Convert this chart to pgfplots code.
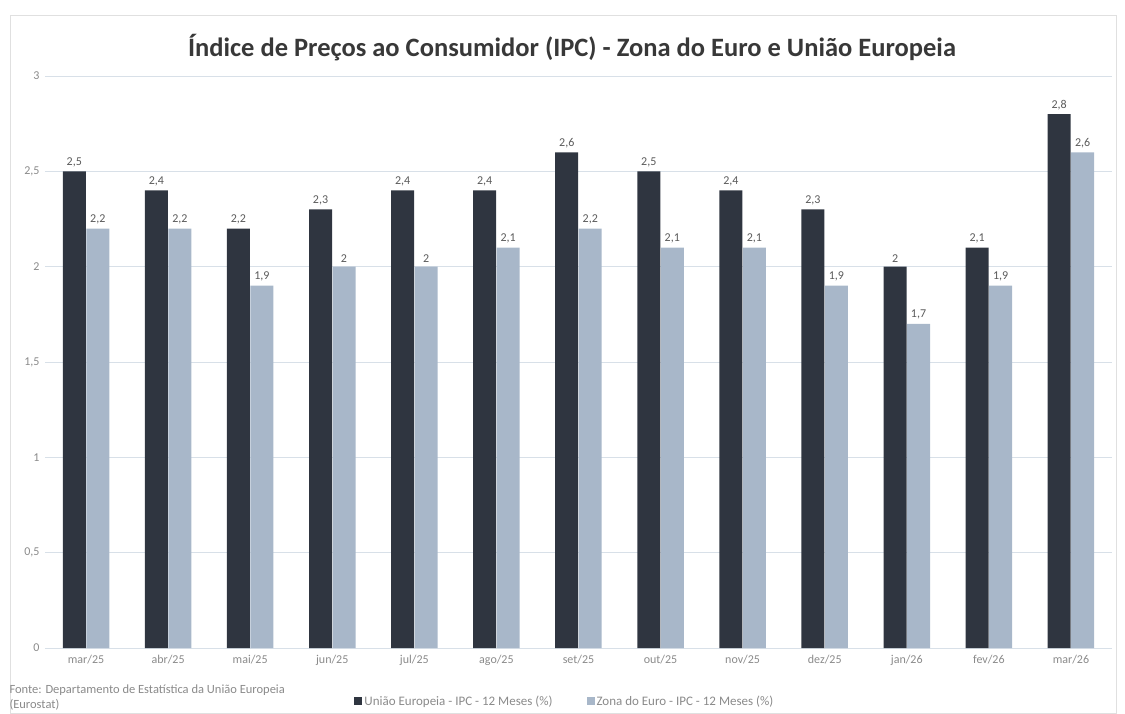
\documentclass[border=0pt]{standalone}
\usepackage{fontspec}
\setmainfont{Carlito}
\usepackage{pgfplots}
\pgfplotsset{compat=1.18}

\definecolor{ueColor}{HTML}{2F3540}
\definecolor{zeColor}{HTML}{A8B7C9}
\definecolor{gridColor}{HTML}{D8E0E8}
\definecolor{tickColor}{HTML}{8A8A8A}
\definecolor{labelColor}{HTML}{5A5A5A}
\definecolor{titleColor}{HTML}{383838}

\begin{document}
\begin{tikzpicture}
\useasboundingbox (0pt,0pt) rectangle (1125pt,-714pt);
\draw[black!12, line width=0.8pt] (10pt,-15pt) rectangle (1116pt,-713pt);

\node[font=\fontsize{26.5}{30}\selectfont\bfseries, text=titleColor] at (572pt,-48pt)
  {Índice de Preços ao Consumidor (IPC) - Zona do Euro e União Europeia};

\begin{axis}[
  at={(45pt,-648pt)}, anchor=south west,
  scale only axis,
  width=1067pt, height=572pt,
  ybar=0.5pt,
  bar width=23pt,
  xmin=-0.5, xmax=12.5,
  ymin=0, ymax=3,
  ytick={0,0.5,...,3},
  xtick={0,...,12},
  xticklabels={mar/25,abr/25,mai/25,jun/25,jul/25,ago/25,set/25,out/25,nov/25,dez/25,jan/26,fev/26,mar/26},
  /pgf/number format/use comma,
  /pgf/number format/assume math mode=true,
  axis line style={draw=none},
  major tick length=0pt,
  ymajorgrids,
  grid style={gridColor, line width=1pt},
  tick label style={font=\fontsize{12}{14}\selectfont, text=tickColor},
  xticklabel style={yshift=-4pt},
  yticklabel style={xshift=-2pt},
  nodes near coords,
  nodes near coords style={font=\fontsize{12}{14}\selectfont, text=labelColor, yshift=1pt},
  legend style={
    at={(0.287,-0.093)}, anchor=west,
    draw=none, fill=none,
    legend columns=2,
    font=\fontsize{13}{15}\selectfont,
    text=tickColor,
    /tikz/every even column/.append style={column sep=32pt},
  },
  legend image code/.code={\fill[#1] (0pt,-4pt) rectangle (8pt,4pt);},
]
\addplot[fill=ueColor, draw=none] coordinates {
  (0,2.5) (1,2.4) (2,2.2) (3,2.3) (4,2.4) (5,2.4) (6,2.6)
  (7,2.5) (8,2.4) (9,2.3) (10,2.0) (11,2.1) (12,2.8)
};
\addplot[fill=zeColor, draw=none] coordinates {
  (0,2.2) (1,2.2) (2,1.9) (3,2.0) (4,2.0) (5,2.1) (6,2.2)
  (7,2.1) (8,2.1) (9,1.9) (10,1.7) (11,1.9) (12,2.6)
};
\legend{União Europeia - IPC - 12 Meses (\%), Zona do Euro - IPC - 12 Meses (\%)}
\end{axis}

\node[anchor=north west, align=left, font=\fontsize{12.5}{15}\selectfont, text=tickColor]
  at (6pt,-681pt) {Fonte: Departamento de Estatística da União Europeia\\(Eurostat)};
\end{tikzpicture}
\end{document}
